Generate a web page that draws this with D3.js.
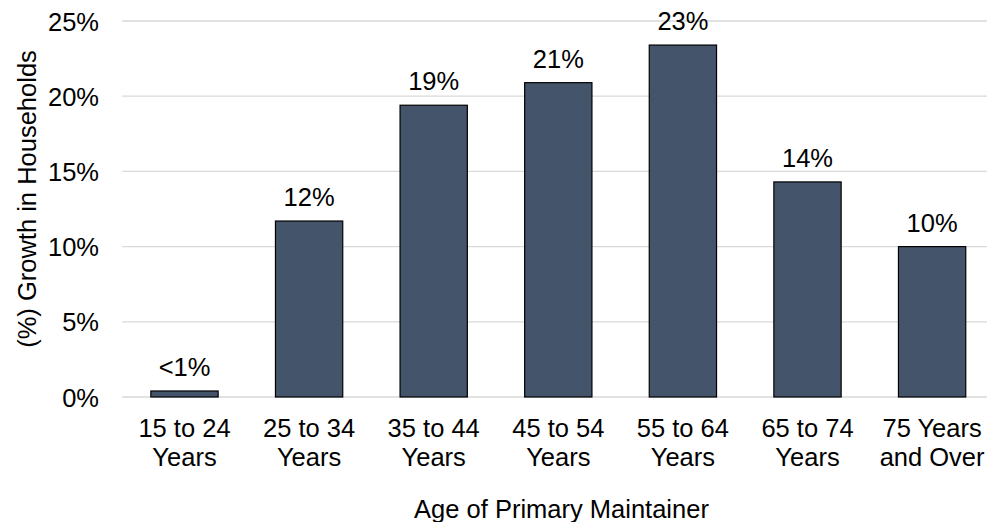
<!DOCTYPE html>
<html>
<head>
<meta charset="utf-8">
<script src="https://cdn.jsdelivr.net/npm/d3@7"></script>
<style>
  html, body { margin: 0; padding: 0; background: #fff; }
  svg { display: block; font-family: "Liberation Sans", Arial, sans-serif; }
</style>
</head>
<body>
<svg id="chart" width="987" height="522"></svg>
<script>
// Household growth by age of primary maintainer (percent)
const categories = [
  ["15 to 24", "Years"],
  ["25 to 34", "Years"],
  ["35 to 44", "Years"],
  ["45 to 54", "Years"],
  ["55 to 64", "Years"],
  ["65 to 74", "Years"],
  ["75 Years", "and Over"]
];
const growth = [0.4, 11.7, 19.4, 20.9, 23.4, 14.3, 10.0];
const yTicks = [0, 5, 10, 15, 20, 25];
const yTitle = "(%) Growth in Households";
const xTitle = "Age of Primary Maintainer";

const svg = d3.select("#chart");
const fontSize = 25.5;

const plot = { left: 122.2, right: 994.4, top: 21, bottom: 397 };

const keys = categories.map(c => c.join(" "));
const x = d3.scaleBand()
  .domain(keys)
  .range([plot.left, plot.right])
  .paddingInner(0.46)
  .paddingOuter(0.23);

const y = d3.scaleLinear()
  .domain([0, 25])
  .range([plot.bottom, plot.top]);

// Horizontal gridlines
svg.append("g")
  .selectAll("line")
  .data(yTicks)
  .join("line")
  .attr("x1", plot.left)
  .attr("x2", plot.right)
  .attr("y1", d => y(d))
  .attr("y2", d => y(d))
  .attr("stroke", "#d9d9d9")
  .attr("stroke-width", 1.3);

// Y axis tick labels
const yAxis = d3.axisLeft(y)
  .tickValues(yTicks)
  .tickFormat(d => d + "%")
  .tickSize(0)
  .tickPadding(0);
const gy = svg.append("g")
  .attr("transform", `translate(${99},0)`)
  .call(yAxis);
gy.select(".domain").remove();
gy.selectAll("text")
  .attr("font-size", fontSize)
  .attr("font-family", "Liberation Sans, Arial, sans-serif")
  .attr("fill", "#000")
  .attr("dy", "0.36em");

// Bars
svg.append("g")
  .selectAll("rect")
  .data(growth)
  .join("rect")
  .attr("x", (d, i) => x(keys[i]))
  .attr("width", x.bandwidth())
  .attr("y", d => y(d))
  .attr("height", d => y(0) - y(d))
  .attr("fill", "#44546a")
  .attr("stroke", "#000")
  .attr("stroke-width", 1.2);

// Value labels above bars
const fmt = v => v < 1 ? "<1%" : Math.round(v) + "%";
svg.append("g")
  .selectAll("text")
  .data(growth)
  .join("text")
  .attr("x", (d, i) => x(keys[i]) + x.bandwidth() / 2)
  .attr("y", d => y(d) - 15)
  .attr("text-anchor", "middle")
  .attr("font-size", fontSize)
  .attr("fill", "#000")
  .text(fmt);

// Category labels (two lines each)
const xl = svg.append("g")
  .selectAll("text")
  .data(categories)
  .join("text")
  .attr("x", (d, i) => x(keys[i]) + x.bandwidth() / 2)
  .attr("y", 436.7)
  .attr("text-anchor", "middle")
  .attr("font-size", fontSize)
  .attr("fill", "#000");
xl.append("tspan")
  .attr("x", (d, i) => x(keys[i]) + x.bandwidth() / 2)
  .text(d => d[0]);
xl.append("tspan")
  .attr("x", (d, i) => x(keys[i]) + x.bandwidth() / 2)
  .attr("dy", 29.3)
  .text(d => d[1]);

// Axis titles
svg.append("text")
  .attr("x", 561.5)
  .attr("y", 518)
  .attr("text-anchor", "middle")
  .attr("font-size", fontSize)
  .attr("fill", "#000")
  .text(xTitle);

svg.append("text")
  .attr("transform", `translate(${36},${199}) rotate(-90)`)
  .attr("text-anchor", "middle")
  .attr("font-size", fontSize)
  .attr("fill", "#000")
  .text(yTitle);
</script>
</body>
</html>
